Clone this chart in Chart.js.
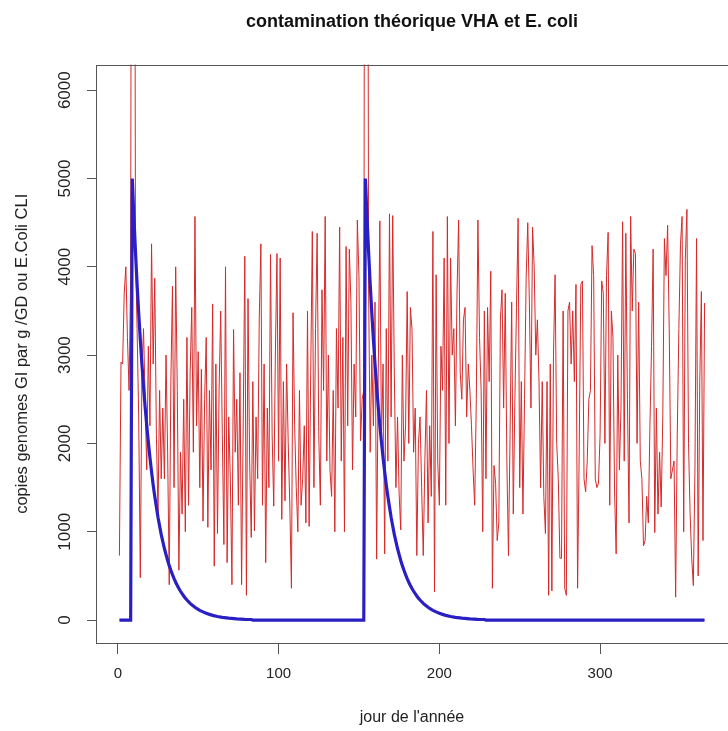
<!DOCTYPE html>
<html>
<head>
<meta charset="utf-8">
<script src="https://cdn.jsdelivr.net/npm/chart.js@4.4.1/dist/chart.umd.min.js"></script>
<style>
  body { margin: 0; background: #fff; overflow: hidden; }
</style>
</head>
<body>
<canvas id="vhachart" width="728" height="731"></canvas>
<script>
// E. coli / VHA theoretical contamination, one value per day of the year
const redCopies = [
  730, 2920, 2900, 3700, 4000, 3200, 2600, 3900, 16000, 15000,
  4200, 3300, 2300, 480, 2800, 3300, 2500, 1700, 3100, 2200,
  4260, 2900, 3870, 2100, 1200, 2600, 1600, 2400, 1600, 3000,
  1900, 400, 2700, 3780, 1500, 4000, 2600, 565, 1900, 1200,
  2500, 1000, 3200, 1300, 2800, 3540, 1900, 4570, 2200, 3040,
  1500, 2840, 1120, 2500, 3200, 1050, 2600, 1700, 3580, 610,
  2900, 980, 2600, 3500, 2100, 855, 4000, 650, 2300, 1600,
  400, 3290, 1900, 2500, 1300, 2800, 400, 2200, 4120, 280,
  3640, 1800, 935, 2700, 1010, 2300, 1600, 3420, 4260, 1300,
  2900, 650, 2400, 1500, 4140, 2100, 1290, 3000, 4150, 1800,
  4100, 1140, 2700, 1350, 2900, 2010, 1300, 360, 3480, 2200,
  1500, 1000, 2600, 1300, 1600, 2200, 1100, 3500, 1060, 2800,
  4400, 1500, 3300, 4380, 2100, 1300, 3740, 2600, 4570, 1800,
  3000, 1700, 1400, 2600, 1000, 3300, 2400, 4450, 1800, 3200,
  1000, 4230, 2200, 4200, 3600, 1700, 2900, 2300, 4530, 3900,
  2030, 2500, 2600, 15000, 15000, 3800, 1900, 3000, 2200, 3600,
  690, 2800, 4520, 2000, 2900, 750, 3300, 1800, 4600, 2300,
  4580, 2800, 1500, 2300, 1430, 1020, 3000, 1800, 2200, 3720,
  2000, 3540, 3290, 1900, 2400, 730, 2000, 2300, 1500, 730,
  1800, 2600, 1100, 2200, 1400, 4400, 320, 3910, 1800, 1300,
  3100, 2600, 4100, 1300, 4570, 2000, 4100, 3000, 3300, 2200,
  3700, 4530, 2800, 2500, 3400, 3540, 2300, 2900, 2600, 2200,
  1700, 1300, 2500, 4530, 3200, 2600, 1000, 3500, 1600, 3540,
  2700, 3950, 360, 1750, 1550, 900, 1100, 3410, 3740, 2400,
  3700, 1800, 730, 2100, 3600, 1200, 2500, 3540, 4550, 1500,
  2700, 1200, 2500, 3870, 4500, 3600, 2400, 4450, 4000, 3000,
  3400, 2700, 1500, 2700, 1400, 980, 2700, 280, 2900, 330,
  3000, 3910, 2000, 1600, 700, 700, 3500, 360, 280, 3500,
  3600, 2900, 3500, 2700, 3800, 360, 1900, 3800, 3840, 1600,
  1450, 1800, 2500, 2600, 4240, 3900, 1600, 1500, 1550, 2100,
  3840, 3700, 2000, 3900, 4390, 1300, 3500, 3200, 1450, 750,
  3000, 1700, 2400, 4510, 1800, 4380, 2500, 1100, 4570, 3500,
  4200, 4150, 2000, 3600, 1800, 1600, 840, 900, 1400, 1100,
  2200, 3100, 4200, 990, 2400, 1200, 1900, 1280, 2300, 4320,
  3900, 4470, 3300, 1600, 1700, 1800, 260, 2100, 3300, 4250,
  4570, 1000, 4080, 4650, 2000, 1200, 700, 390, 1700, 4320,
  500, 2700, 3720, 900, 3590
];

// blue curve: day and value where it changes
const blueDays = [
  1, 8, 9, 10, 11, 12, 13, 14, 15, 16, 17, 18, 19, 20, 21, 22, 23, 24, 25, 26,
  27, 28, 29, 30, 31, 32, 33, 34, 35, 36, 37, 38, 39, 40, 41, 42, 43, 44, 45, 46,
  47, 48, 49, 51, 53, 55, 57, 59, 62, 65, 69, 74, 79, 83, 84,
  153, 154, 155, 156, 157, 158, 159, 160, 161, 162, 163, 164, 165, 166, 167, 168, 169, 170, 171, 172,
  173, 174, 175, 176, 177, 178, 179, 180, 181, 182, 183, 184, 185, 186, 187, 188, 189, 190, 191, 192,
  193, 194, 196, 198, 200, 202, 204, 207, 210, 214, 219, 224, 228, 229, 365
];
const blueCopies = [
  0, 0, 5000, 4565, 4170, 3805, 3475, 3175, 2895, 2645, 2415, 2205, 2015, 1840, 1680, 1530, 1400, 1280, 1165, 1065,
  970, 888, 810, 740, 675, 616, 563, 514, 469, 428, 391, 357, 326, 298, 272, 248, 227, 207, 189, 173,
  158, 144, 131, 110, 92, 76, 64, 53, 40, 30, 21, 13, 8, 6, 0,
  0, 5000, 4565, 4170, 3805, 3475, 3175, 2895, 2645, 2415, 2205, 2015, 1840, 1680, 1530, 1400, 1280, 1165, 1065, 970,
  888, 810, 740, 675, 616, 563, 514, 469, 428, 391, 357, 326, 298, 272, 248, 227, 207, 189, 173, 158,
  144, 131, 110, 92, 76, 64, 53, 40, 30, 21, 13, 8, 6, 0, 0
];

const xTicks = [0, 100, 200, 300];
const yTicks = [0, 1000, 2000, 3000, 4000, 5000, 6000];

const FONT = "'Liberation Sans', Arial, sans-serif";

// R style box around the plot region
const boxPlugin = {
  id: 'rbox',
  afterDraw(chart) {
    const a = chart.chartArea;
    const ctx = chart.ctx;
    ctx.save();
    ctx.strokeStyle = '#555';
    ctx.lineWidth = 1;
    ctx.strokeRect(Math.round(a.left) + 0.5, Math.round(a.top) + 0.5,
      Math.round(a.right - a.left), Math.round(a.bottom - a.top));
    ctx.restore();
  }
};

const vhadata = {
  datasets: [{
    label: 'VHA',
    data: blueDays.map((d, i) => ({x: d, y: blueCopies[i]})),
    borderColor: '#2a1fc2',
    borderWidth: 3.2,
    pointRadius: 0,
    tension: 0,
    clip: 0,
    order: 0
  }, {
    label: 'E. coli',
    data: redCopies.map((v, i) => ({x: i + 1, y: v})),
    borderColor: '#d62a2a',
    borderWidth: 1,
    pointRadius: 0,
    tension: 0,
    clip: 0,
    order: 1
  }]
};

const vhaconfig = {
  type: 'line',
  data: vhadata,
  options: {
    responsive: false,
    animation: false,
    layout: { padding: { left: 0, top: 0, right: -14, bottom: 0 } },
    plugins: {
      legend: { display: false },
      tooltip: { enabled: false },
      title: {
        display: true,
        fullSize: false,
        text: 'contamination théorique VHA et E. coli',
        color: '#111',
        font: { family: FONT, size: 18, weight: 'bold' },
        padding: { top: 11, bottom: 32 }
      }
    },
    scales: {
      x: {
        type: 'linear',
        min: -13.56,
        max: 379.56,
        afterBuildTicks: s => { s.ticks = xTicks.map(v => ({value: v})); },
        afterFit: s => { s.height = 88; },
        border: { display: false },
        grid: { drawOnChartArea: false, tickLength: 11, color: '#555' },
        ticks: {
          color: '#222',
          padding: 11,
          maxRotation: 0,
          callback: v => String(v),
          font: { family: FONT, size: 15 }
        },
        title: {
          display: true,
          text: "jour de l'année",
          color: '#222',
          font: { family: FONT, size: 16 },
          padding: { top: 0, bottom: 4 }
        }
      },
      y: {
        min: -260,
        max: 6290,
        afterBuildTicks: s => { s.ticks = yTicks.map(v => ({value: v})); },
        afterFit: s => { s.width = 96; },
        border: { display: false },
        grid: { drawOnChartArea: false, tickLength: 9, color: '#555' },
        ticks: {
          color: '#222',
          minRotation: 90,
          maxRotation: 90,
          crossAlign: 'center',
          padding: 3,
          callback: v => String(v),
          font: { family: FONT, size: 17 }
        },
        title: {
          display: true,
          text: 'copies genomes GI par g /GD ou E.Coli CLI',
          color: '#222',
          font: { family: FONT, size: 16.5 },
          padding: { top: 13, bottom: 0 }
        }
      }
    }
  },
  plugins: [boxPlugin]
};

const vhachart = new Chart(
  document.getElementById('vhachart'),
  vhaconfig
);
</script>
</body>
</html>
